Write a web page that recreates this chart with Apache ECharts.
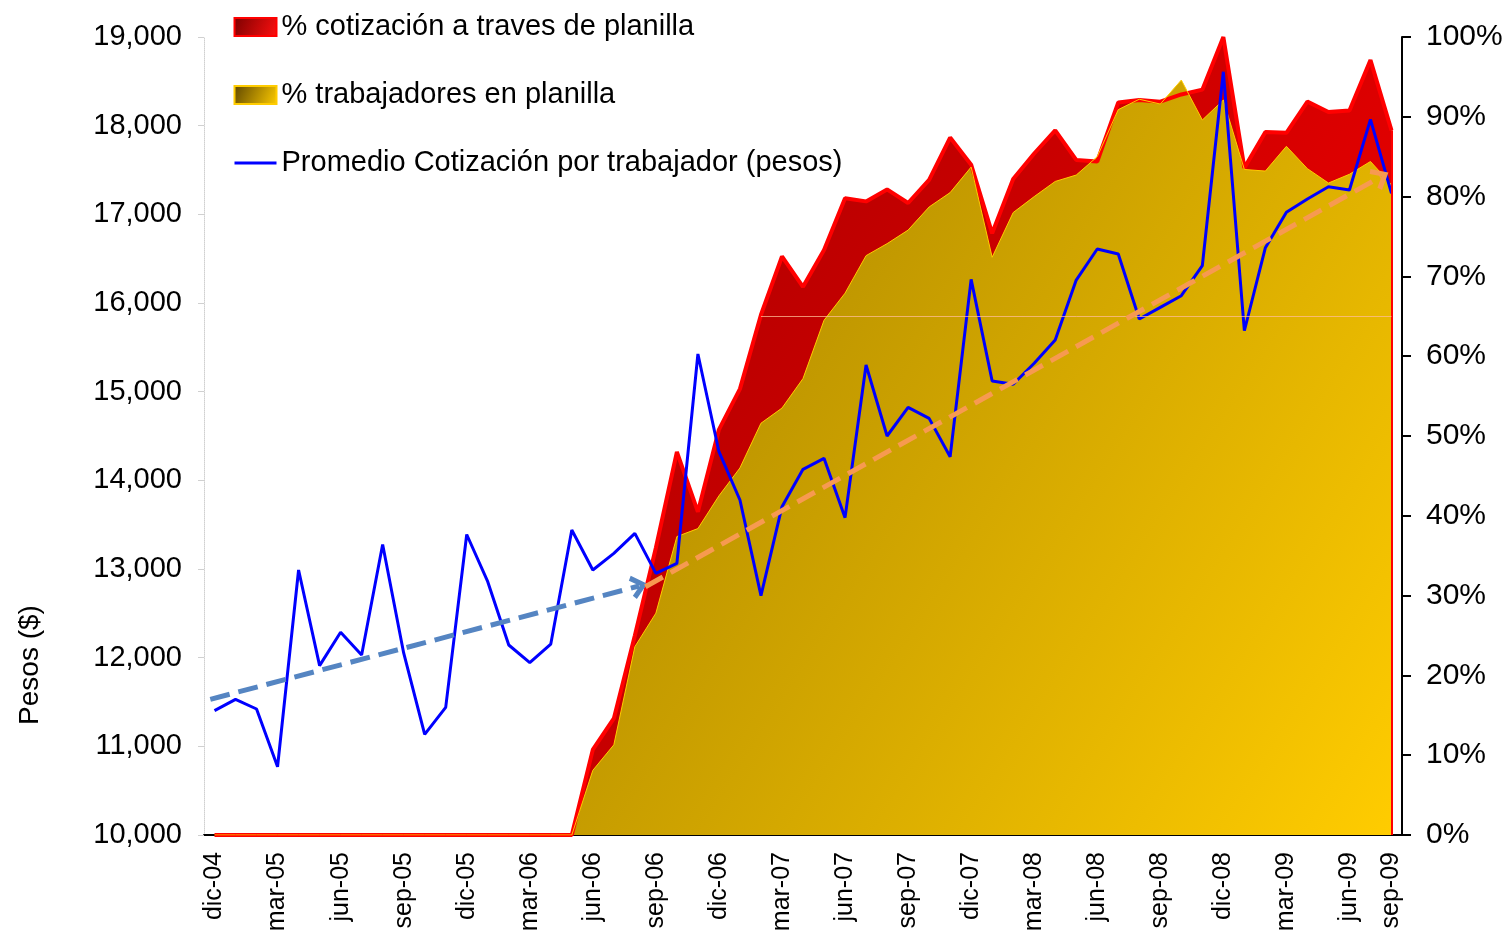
<!DOCTYPE html>
<html>
<head>
<meta charset="utf-8">
<script src="https://cdn.jsdelivr.net/npm/echarts@6/dist/echarts.min.js"></script>
<style>
  html, body { margin: 0; padding: 0; background: #fff; }
  #chart { width: 1509px; height: 938px; }
</style>
</head>
<body>
<div id="chart"></div>
<script>
// meses (eje x)
var meses = ['dic-04', 'ene-05', 'feb-05', 'mar-05', 'abr-05', 'may-05', 'jun-05', 'jul-05', 'ago-05', 'sep-05',
  'oct-05', 'nov-05', 'dic-05', 'ene-06', 'feb-06', 'mar-06', 'abr-06', 'may-06', 'jun-06', 'jul-06',
  'ago-06', 'sep-06', 'oct-06', 'nov-06', 'dic-06', 'ene-07', 'feb-07', 'mar-07', 'abr-07', 'may-07',
  'jun-07', 'jul-07', 'ago-07', 'sep-07', 'oct-07', 'nov-07', 'dic-07', 'ene-08', 'feb-08', 'mar-08',
  'abr-08', 'may-08', 'jun-08', 'jul-08', 'ago-08', 'sep-08', 'oct-08', 'nov-08', 'dic-08', 'ene-09',
  'feb-09', 'mar-09', 'abr-09', 'may-09', 'jun-09', 'jul-09', 'sep-09']

// % cotizacion a traves de planilla (eje derecho)
var pctCotizacion = [0, 0, 0, 0, 0, 0, 0, 0, 0, 0,
  0, 0, 0, 0, 0, 0, 0, 0, 10.7, 14.6,
  25.0, 36.0, 48.0, 40.5, 50.8, 55.9, 65.2, 72.5, 68.7, 73.3,
  79.8, 79.4, 80.9, 79.2, 82.1, 87.4, 84.0, 75.4, 82.2, 85.4,
  88.3, 84.6, 84.4, 91.8, 92.1, 91.9, 92.8, 93.4, 100, 83.6,
  88.1, 88.0, 91.9, 90.6, 90.8, 97.1, 88.3]

// % trabajadores en planilla (eje derecho)
var pctTrabajadores = [0, 0, 0, 0, 0, 0, 0, 0, 0, 0,
  0, 0, 0, 0, 0, 0, 0, 0, 8.1, 11.3,
  23.6, 27.8, 37.4, 38.4, 42.5, 46.0, 51.6, 53.5, 57.2, 64.5,
  67.9, 72.6, 74.1, 75.8, 78.7, 80.5, 83.7, 72.4, 78.0, 80.0,
  81.9, 82.7, 85.0, 90.9, 92.2, 91.6, 94.6, 89.6, 92.1, 83.4,
  83.2, 86.3, 83.5, 81.7, 82.8, 84.4, 81.5]

// promedio cotizacion por trabajador, pesos (eje izquierdo)
var promedioPesos = [11402, 11530, 11421, 10770, 12989, 11910, 12286, 12030, 13276, 12053,
  11135, 11440, 13389, 12857, 12143, 11944, 12154, 13440, 12989, 13177,
  13402, 12951, 13064, 15425, 14323, 13778, 12699, 13703, 14124, 14248,
  13579, 15301, 14500, 14823, 14699, 14266, 16267, 15120, 15083, 15320,
  15582, 16259, 16609, 16552, 15819, 15951, 16082, 16421, 18608, 15687,
  16624, 17023, 17173, 17311, 17274, 18071, 17237]

// flechas de tendencia: [posicion en meses, pesos]
var tendenciaAzul = [[-0.2, 11530], [20.2, 12808]]
var tendenciaNaranja = [[20.5, 12800], [55.5, 17424]]

var nombres = ['% cotización a traves de planilla', '% trabajadores en planilla', 'Promedio Cotización por trabajador (pesos)']

var fuente = 'Liberation Sans, Arial, sans-serif'
var punta = 'path://M10,0 L20,12 L16.5,14.6 L10,6.6 L3.5,14.6 L0,12 Z'
var ultimo = meses.length - 1

var chart = echarts.init(document.getElementById('chart'))
chart.setOption({
  animation: false,
  textStyle: { fontFamily: fuente, color: '#000' },
  grid: { left: 204, right: 107, top: 37, bottom: 103 },
  legend: {
    orient: 'vertical',
    left: 228,
    top: 6,
    itemWidth: 42,
    itemHeight: 18,
    itemGap: 36,
    textStyle: { fontSize: 29, lineHeight: 32, color: '#000', fontFamily: fuente },
    data: [
      {
        name: nombres[0], icon: 'rect',
        itemStyle: {
          color: { type: 'linear', x: 0, y: 0, x2: 1, y2: 1, colorStops: [{ offset: 0, color: '#7a0000' }, { offset: 1, color: '#ff1010' }] },
          borderColor: '#ff0000', borderWidth: 2
        }
      },
      {
        name: nombres[1], icon: 'rect',
        itemStyle: {
          color: { type: 'linear', x: 0, y: 0, x2: 1, y2: 1, colorStops: [{ offset: 0, color: '#5e4600' }, { offset: 1, color: '#ffcc00' }] },
          borderColor: '#ffcc00', borderWidth: 2
        }
      },
      { name: nombres[2], itemStyle: { opacity: 0 }, lineStyle: { color: '#0000ff', width: 3 } }
    ]
  },
  graphic: [{
    type: 'text',
    x: 30, y: 665,
    rotation: Math.PI / 2,
    style: { text: 'Pesos ($)', fontSize: 28, fontFamily: fuente, fill: '#000', align: 'center', verticalAlign: 'middle' }
  }],
  xAxis: [
    {
      type: 'category',
      data: meses,
      boundaryGap: true,
      axisLine: { onZero: false, lineStyle: { color: '#000', width: 2 } },
      axisTick: { interval: 0, length: 7, lineStyle: { color: '#000', width: 1.5 } },
      axisLabel: {
        rotate: 90,
        fontSize: 25,
        margin: 17,
        color: '#000',
        interval: function (i) { return i % 3 === 0 || i === ultimo }
      },
      splitLine: { show: false }
    },
    {
      type: 'value',
      min: -0.5,
      max: meses.length - 0.5,
      show: false
    }
  ],
  yAxis: [
    {
      type: 'value',
      min: 10000,
      max: 19000,
      interval: 1000,
      position: 'left',
      axisLine: { show: true, onZero: false, lineStyle: { color: '#d0d0d0', type: 'dotted', width: 1 } },
      axisTick: { show: true, length: 6, lineStyle: { color: '#d0d0d0' } },
      axisLabel: {
        fontSize: 29,
        margin: 22,
        color: '#000',
        formatter: function (v) { return String(v).replace(/\B(?=(\d{3})+(?!\d))/g, ',') }
      },
      splitLine: { show: false }
    },
    {
      type: 'value',
      min: 0,
      max: 100,
      interval: 10,
      position: 'right',
      axisLine: { show: true, onZero: false, lineStyle: { color: '#000', width: 2 } },
      axisTick: { show: true, length: 9, lineStyle: { color: '#000', width: 2 } },
      axisLabel: { fontSize: 30, margin: 24, color: '#000', formatter: '{value}%' },
      splitLine: { show: false }
    }
  ],
  series: [
    {
      name: nombres[0],
      type: 'line',
      yAxisIndex: 1,
      data: pctCotizacion,
      symbol: 'none',
      lineStyle: { color: '#ff0000', width: 4 },
      itemStyle: { color: '#ff0000' },
      areaStyle: {
        opacity: 1,
        color: { type: 'linear', x: 0, y: 0, x2: 1, y2: 1, colorStops: [{ offset: 0, color: '#8c0000' }, { offset: 1, color: '#ff0000' }] }
      },
      markLine: {
        silent: true,
        symbol: ['none', 'none'],
        label: { show: false },
        lineStyle: { color: '#ff0000', width: 2, type: 'solid' },
        data: [[{ coord: [ultimo, 0] }, { coord: [ultimo, pctCotizacion[ultimo]] }]]
      }
    },
    {
      name: nombres[1],
      type: 'line',
      yAxisIndex: 1,
      data: pctTrabajadores,
      symbol: 'none',
      lineStyle: { color: '#ffcc00', width: 1 },
      itemStyle: { color: '#ffcc00' },
      areaStyle: {
        opacity: 1,
        color: { type: 'linear', x: 0, y: 0, x2: 1, y2: 1, colorStops: [{ offset: 0, color: '#8c6c00' }, { offset: 1, color: '#ffcc00' }] }
      },
      markLine: {
        silent: true,
        symbol: ['none', 'none'],
        label: { show: false },
        lineStyle: { color: 'rgba(255,190,150,0.75)', width: 1, type: 'solid' },
        data: [[{ coord: [26, 65] }, { coord: [ultimo, 65] }]]
      }
    },
    {
      name: nombres[2],
      type: 'line',
      yAxisIndex: 0,
      data: promedioPesos,
      symbol: 'none',
      lineStyle: { color: '#0000ff', width: 3 },
      itemStyle: { color: '#0000ff' }
    },
    {
      name: 'tendencia1',
      type: 'line',
      xAxisIndex: 1,
      yAxisIndex: 0,
      data: [],
      markLine: {
        silent: true,
        symbol: ['none', punta],
        symbolSize: [24, 17],
        label: { show: false },
        lineStyle: { color: '#5585c2', width: 5, type: [20, 9] },
        data: [[{ coord: tendenciaAzul[0] }, { coord: tendenciaAzul[1] }]]
      }
    },
    {
      name: 'tendencia2',
      type: 'line',
      xAxisIndex: 1,
      yAxisIndex: 0,
      data: [],
      markLine: {
        silent: true,
        symbol: ['none', punta],
        symbolSize: [24, 17],
        label: { show: false },
        lineStyle: { color: '#f79a50', width: 5, type: [20, 9] },
        data: [[{ coord: tendenciaNaranja[0] }, { coord: tendenciaNaranja[1] }]]
      }
    }
  ]
})
</script>
</body>
</html>
